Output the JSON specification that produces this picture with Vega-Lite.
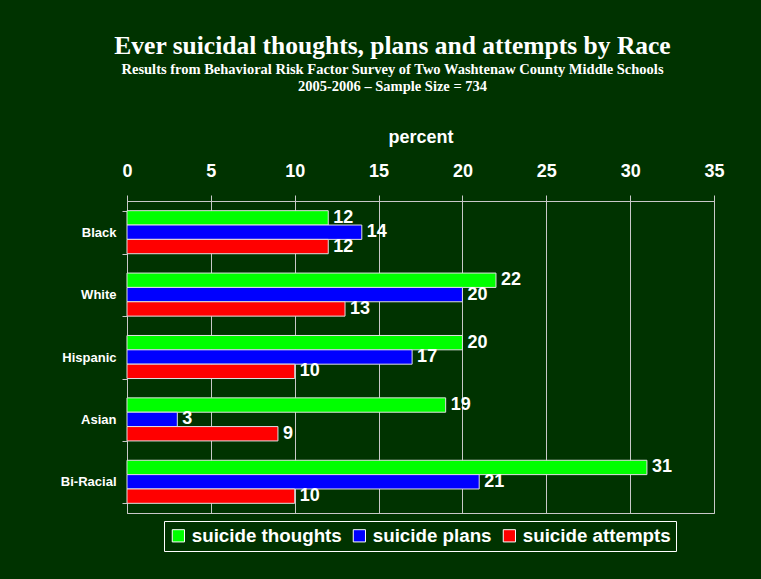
{
  "$schema": "https://vega.github.io/schema/vega-lite/v6.json",
  "width": 587,
  "height": 312,
  "autosize": {"type": "none"},
  "padding": {"left": 127, "top": 201, "right": 47, "bottom": 66},
  "background": "#003300",
  "title": {
    "text": "Ever suicidal thoughts, plans and attempts by Race",
    "subtitle": ["Results from Behavioral Risk Factor Survey of Two Washtenaw County Middle Schools", "2005-2006 – Sample Size = 734"],
    "font": "Liberation Serif",
    "fontSize": 25.5,
    "fontWeight": "bold",
    "color": "white",
    "subtitleFont": "Liberation Serif",
    "subtitleFontSize": 14.5,
    "subtitleFontWeight": "bold",
    "subtitleColor": "white",
    "subtitlePadding": 4,
    "subtitleLineHeight": 16.5,
    "anchor": "middle",
    "dx": -28,
    "offset": 35
  },
  "config": {
    "view": {"stroke": "#c8c8c8", "strokeWidth": 1},
    "font": "Liberation Sans"
  },
  "data": {
    "values": [
      {"race": "Black", "series": "suicide thoughts", "value": 12},
      {"race": "Black", "series": "suicide plans", "value": 14},
      {"race": "Black", "series": "suicide attempts", "value": 12},
      {"race": "White", "series": "suicide thoughts", "value": 22},
      {"race": "White", "series": "suicide plans", "value": 20},
      {"race": "White", "series": "suicide attempts", "value": 13},
      {"race": "Hispanic", "series": "suicide thoughts", "value": 20},
      {"race": "Hispanic", "series": "suicide plans", "value": 17},
      {"race": "Hispanic", "series": "suicide attempts", "value": 10},
      {"race": "Asian", "series": "suicide thoughts", "value": 19},
      {"race": "Asian", "series": "suicide plans", "value": 3},
      {"race": "Asian", "series": "suicide attempts", "value": 9},
      {"race": "Bi-Racial", "series": "suicide thoughts", "value": 31},
      {"race": "Bi-Racial", "series": "suicide plans", "value": 21},
      {"race": "Bi-Racial", "series": "suicide attempts", "value": 10}
    ]
  },
  "encoding": {
    "y": {
      "field": "race",
      "type": "nominal",
      "sort": ["Black", "White", "Hispanic", "Asian", "Bi-Racial"],
      "scale": {"paddingInner": 0.31, "paddingOuter": 0.155},
      "axis": {
        "title": null,
        "labelColor": "white",
        "labelFontSize": 13,
        "labelFontWeight": "bold",
        "labelPadding": 6,
        "tickBand": "extent",
        "tickColor": "#c8c8c8",
        "tickSize": 5,
        "domainColor": "#c8c8c8",
        "grid": false
      }
    },
    "yOffset": {
      "field": "series",
      "type": "nominal",
      "sort": ["suicide thoughts", "suicide plans", "suicide attempts"]
    },
    "x": {
      "field": "value",
      "type": "quantitative",
      "scale": {"domain": [0, 35], "nice": false},
      "axis": {
        "orient": "top",
        "title": "percent",
        "titleColor": "white",
        "titleFontSize": 18,
        "titleFontWeight": "bold",
        "titlePadding": 16,
        "values": [0, 5, 10, 15, 20, 25, 30, 35],
        "labelFlush": false,
        "labelColor": "white",
        "labelFontSize": 18,
        "labelFontWeight": "bold",
        "labelPadding": 15,
        "tickSize": 6,
        "tickColor": "#c8c8c8",
        "domainColor": "#c8c8c8",
        "grid": true,
        "gridColor": "#c8c8c8",
        "gridOpacity": 1
      }
    }
  },
  "layer": [
    {
      "mark": {"type": "bar", "stroke": "#e0e0e0", "strokeWidth": 1},
      "encoding": {
        "color": {
          "field": "series",
          "type": "nominal",
          "sort": ["suicide thoughts", "suicide plans", "suicide attempts"],
          "scale": {"domain": ["suicide thoughts", "suicide plans", "suicide attempts"], "range": ["#00ff00", "#0000ff", "#ff0000"]},
          "legend": {
            "orient": "none",
            "legendX": 37,
            "legendY": 320,
            "direction": "horizontal",
            "title": null,
            "strokeColor": "white",
            "padding": 5,
            "symbolType": "square",
            "symbolSize": 150,
            "symbolStrokeColor": "white",
            "symbolStrokeWidth": 1,
            "symbolOpacity": 1,
            "labelColor": "white",
            "labelFontSize": 18.75,
            "labelFontWeight": "bold",
            "labelOffset": 4,
            "columnPadding": 8,
            "labelLimit": 300
          }
        }
      }
    },
    {
      "mark": {"type": "text", "align": "left", "baseline": "middle", "dx": 5, "color": "white", "fontSize": 18, "fontWeight": "bold"},
      "encoding": {"text": {"field": "value", "type": "quantitative"}}
    }
  ]
}
